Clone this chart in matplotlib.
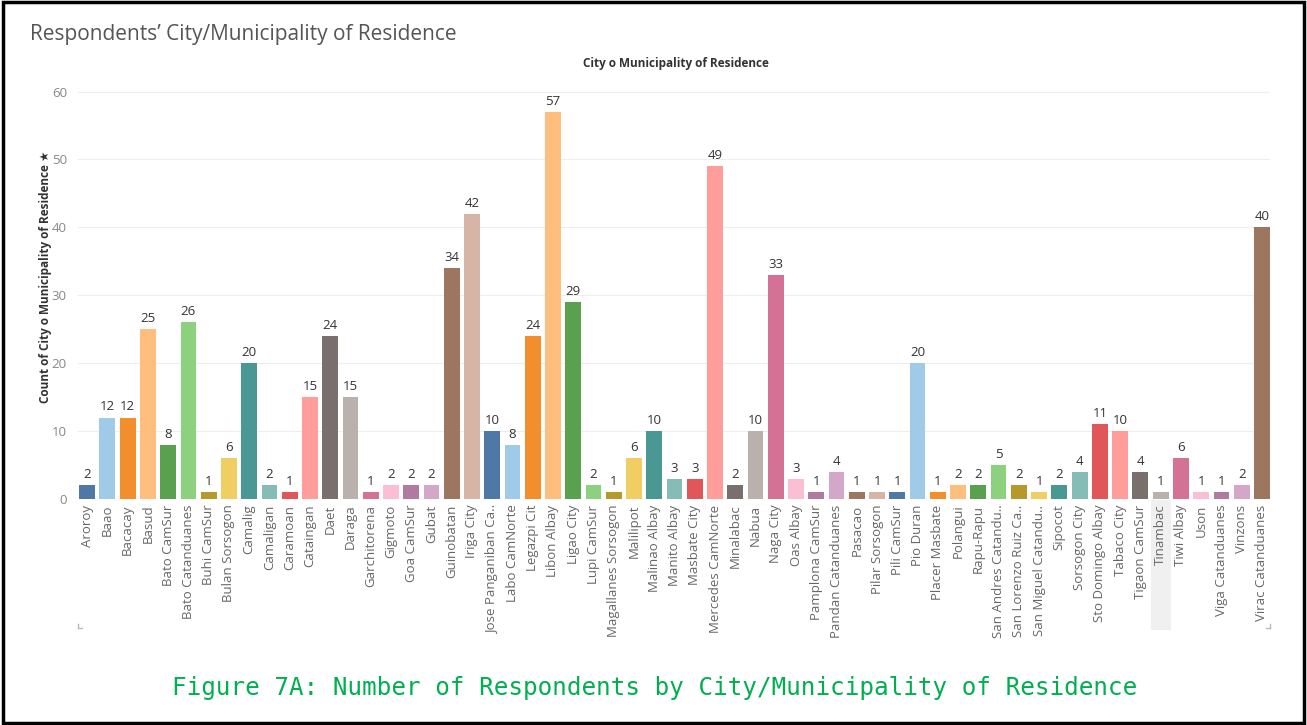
import matplotlib
matplotlib.use("Agg")
import matplotlib.pyplot as plt
from matplotlib.patches import Rectangle
from matplotlib.lines import Line2D

categories = ["Aroroy", "Baao", "Bacacay", "Basud", "Bato CamSur", "Bato Catanduanes",
              "Buhi CamSur", "Bulan Sorsogon", "Camalig", "Camaligan", "Caramoan", "Cataingan",
              "Daet", "Daraga", "Garchitorena", "Gigmoto", "Goa CamSur", "Gubat", "Guinobatan",
              "Iriga City", "Jose Panganiban Ca..", "Labo CamNorte", "Legazpi Cit", "Libon Albay",
              "Ligao City", "Lupi CamSur", "Magallanes Sorsogon", "Malilipot", "Malinao Albay",
              "Manito Albay", "Masbate City", "Mercedes CamNorte", "Minalabac", "Nabua",
              "Naga City", "Oas Albay", "Pamplona CamSur", "Pandan Catanduanes", "Pasacao",
              "Pilar Sorsogon", "Pili CamSur", "Pio Duran", "Placer Masbate", "Polangui",
              "Rapu-Rapu", "San Andres Catandu..", "San Lorenzo Ruiz Ca..", "San Miguel Catandu..",
              "Sipocot", "Sorsogon City", "Sto Domingo Albay", "Tabaco City", "Tigaon CamSur",
              "Tinambac", "Tiwi Albay", "Uson", "Viga Catanduanes", "Vinzons", "Virac Catanduanes"]
counts = [2, 12, 12, 25, 8, 26, 1, 6, 20, 2, 1, 15, 24, 15, 1, 2, 2, 2, 34, 42, 10, 8, 24, 57,
          29, 2, 1, 6, 10, 3, 3, 49, 2, 10, 33, 3, 1, 4, 1, 1, 1, 20, 1, 2, 2, 5, 2, 1, 2, 4,
          11, 10, 4, 1, 6, 1, 1, 2, 40]
yticks = [0, 10, 20, 30, 40, 50, 60]

palette = ["#4E79A7", "#A0CBE8", "#F28E2B", "#FFBE7D", "#59A14F", "#8CD17D", "#B6992D",
           "#F1CE63", "#499894", "#86BCB6", "#E15759", "#FF9D9A", "#79706E", "#BAB0AC",
           "#D37295", "#FABFD2", "#B07AA1", "#D4A6C8", "#9D7660", "#D7B5A6"]
colors = [palette[i % len(palette)] for i in range(len(categories))]

plt.rcParams['font.family'] = ['Open Sans', 'DejaVu Sans']

fig = plt.figure(figsize=(13.07, 7.25), dpi=100)
fig.patches.append(Rectangle((0.002, 0.003), 0.996, 0.994, transform=fig.transFigure,
                             fill=False, edgecolor="black", linewidth=2.5))

ax = fig.add_axes([0.0597, 0.3117, 0.912, 0.578])
x = list(range(len(categories)))
ax.bar(x, counts, width=0.78, color=colors, zorder=2)
for xi, v in zip(x, counts):
    ax.text(xi, v + 0.6, str(v), ha="center", va="bottom", fontsize=9.5, color="#333333")

ax.set_xlim(-0.45, 58.4)
ax.set_ylim(0, 61.7)
ax.set_yticks(yticks)
ax.yaxis.grid(True, color="#eeeeee", linewidth=0.8, zorder=0)
ax.tick_params(axis="y", length=0, labelsize=9.5, labelcolor="#888888", pad=8)
ax.tick_params(axis="x", length=0, labelsize=9.5, labelcolor="#666666", pad=4)
ax.set_xticks(x)
ax.set_xticklabels(categories, rotation=90)
for s in ax.spines.values():
    s.set_visible(False)

# highlight band behind Tinambac label
ti = categories.index("Tinambac")
ax.add_patch(Rectangle((ti - 0.5, -19.3), 1.0, 19.2, transform=ax.transData,
                       facecolor="#f0f0f0", edgecolor="none", clip_on=False, zorder=0))

ax.set_ylabel("Count of City o Municipality of Residence \u2605", fontsize=8.5, fontweight="bold",
              color="#333333")
ax.yaxis.set_label_coords(-0.022, 0.53)

# small corner marks below the chart area
for fx, dx in [(78 / 1307, 4 / 1307), (1270 / 1307, -4 / 1307)]:
    fy = 1 - 628 / 725
    fig.add_artist(Line2D([fx, fx], [fy, fy + 4 / 725], transform=fig.transFigure,
                          color="#bbbbbb", linewidth=1))
    fig.add_artist(Line2D([fx, fx + dx], [fy, fy], transform=fig.transFigure,
                          color="#bbbbbb", linewidth=1))

fig.text(0.023, 0.952, "Respondents\u2019 City/Municipality of Residence", fontsize=15,
         color="#555555", ha="left", va="center")
fig.text(0.517, 0.913, "City o Municipality of Residence", fontsize=8.5, fontweight="bold",
         color="#333333", ha="center", va="center")
fig.text(0.501, 0.051, "Figure 7A: Number of Respondents by City/Municipality of Residence",
         fontsize=17.5, color="#00B050", ha="center", va="center",
         family=["DejaVu Sans Mono"])

fig.savefig("out.png", dpi=100)
